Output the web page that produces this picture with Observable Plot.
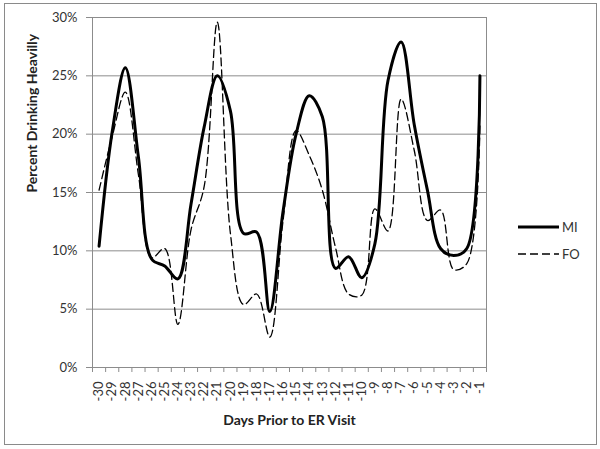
<!DOCTYPE html>
<html><head><meta charset="utf-8">
<script src="https://cdn.jsdelivr.net/npm/d3@7"></script>
<script src="https://cdn.jsdelivr.net/npm/@observablehq/plot@0.6"></script>
<style>
body{margin:0;background:#fff;}
#wrap{position:relative;width:600px;height:449px;font-family:Lato, sans-serif;overflow:hidden;}
#border{position:absolute;left:4px;top:3px;width:591px;height:440px;border:1px solid #8a8a8a;}
#chart{position:absolute;left:0;top:0;}
#legend{position:absolute;left:518px;top:213px;font-size:13px;color:#333;}
.row{display:flex;align-items:center;height:27px;}
.row span{margin-left:3px;}
</style></head><body>
<div id="wrap"><div id="border"></div><div id="chart"></div><div id="legend"></div></div>
<script>
const days = [-30,-29,-28,-27,-26,-25,-24,-23,-22,-21,-20,-19,-18,-17,-16,-15,-14,-13,-12,-11,-10,-9,-8,-7,-6,-5,-4,-3,-2,-1];
const miValues = [10.4,20.2,25.7,18.0,9.3,8.7,7.6,14.0,20.6,25.0,22.0,11.5,11.6,4.8,13.3,20.0,23.3,21.5,8.5,9.5,7.7,10.6,24.6,27.9,20.8,15.2,10.2,9.6,10.2,25.0];
const foValues = [15.2,19.8,23.6,16.5,9.4,10.2,3.7,11.8,15.5,29.6,11.5,5.4,6.3,2.6,12.5,20.3,18.2,15.2,10.3,6.3,6.2,13.6,11.7,23.0,18.6,12.6,13.5,8.4,8.9,20.7];
const yTicks = [0,5,10,15,20,25,30];
const seriesNames = ["MI","FO"];
const xTitle = "Days Prior to ER Visit";
const yTitle = "Percent Drinking Heavilly";

const mi = days.map((d,i)=>({day:d, value:miValues[i]}));
const fo = days.map((d,i)=>({day:d, value:foValues[i]}));
const bounds = d3.range(days.length+1).map(i => days[0]-0.5+i);

const plot = Plot.plot({
  width:600, height:449,
  marginLeft:92, marginRight:114, marginTop:17, marginBottom:82,
  style:{fontFamily:"Lato, sans-serif", fontSize:"13px", color:"#333", background:"transparent"},
  x:{type:"linear", domain:[days[0]-0.5, days[days.length-1]+0.5]},
  y:{domain:[0,30]},
  marks:[
    Plot.gridY(yTicks.slice(1), {stroke:"#8c8c8c", strokeOpacity:1}),
    Plot.frame({stroke:"#8c8c8c"}),
    Plot.axisY(yTicks, {tickFormat:d=>d+"%", tickSize:6, tickPadding:9, stroke:"#8c8c8c", label:null}),
    Plot.axisX(bounds, {tickFormat:()=>"", tickSize:5, stroke:"#8c8c8c", label:null}),
    Plot.axisX(days, {tickFormat:d=>String(d), tickSize:0, tickPadding:14, tickRotate:-90, label:null}),
    Plot.line(fo, {x:"day", y:"value", curve:"catmull-rom", stroke:"#000", strokeWidth:1.3, strokeDasharray:"8,4"}),
    Plot.line(mi, {x:"day", y:"value", curve:"catmull-rom", stroke:"#000", strokeWidth:3}),
    Plot.text([xTitle], {frameAnchor:"bottom", lineAnchor:"top", dy:48, fontWeight:"bold", fontSize:14, fill:"#222"}),
    Plot.text([yTitle], {frameAnchor:"left", rotate:-90, dx:-60, fontWeight:"bold", fontSize:14, fill:"#222"})
  ]
});
document.getElementById("chart").appendChild(plot);

const leg = document.getElementById("legend");
seriesNames.forEach((name,i)=>{
  const row = document.createElement("div");
  row.className = "row";
  const dash = i===0 ? "" : 'stroke-dasharray="8,4"';
  const w = i===0 ? 3 : 1.3;
  row.innerHTML = `<svg width="41" height="6"><line x1="0" x2="41" y1="3" y2="3" stroke="#000" stroke-width="${w}" ${dash}/></svg><span>${name}</span>`;
  leg.appendChild(row);
});
</script>
</body></html>
